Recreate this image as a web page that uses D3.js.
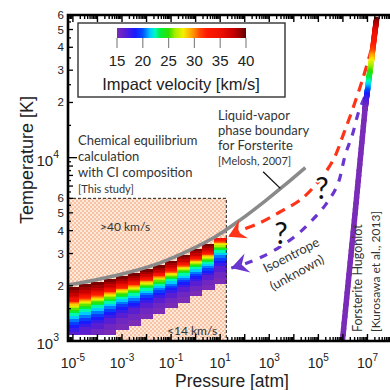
<!DOCTYPE html>
<html><head><meta charset="utf-8">
<script src="https://cdn.jsdelivr.net/npm/d3@7"></script>
<style>body{margin:0;background:#fff} svg{display:block}</style>
</head><body><svg id="chart" width="390" height="390"></svg>
<script>
// colour scale for impact velocity [km/s]
const cbVel = [15, 16.5, 18.5, 20, 21.4, 22.4, 23.3, 25, 26.2, 27.8, 29.1, 30.1, 31.1, 32.4, 35, 37.5, 38.8, 40];
const cbCol = ['#7a2bb8','#5a1ed2','#1a1aff','#0050ff','#00c8ff','#00f8c0','#00f040','#30e000','#a0ee00','#f4f000','#ffb400','#ff8000','#ff4400','#ff1a00','#ee1000','#c80000','#980000','#620000'];
const cbTicks = [15, 20, 25, 30, 35, 40];

// heat map columns: log10 P [atm], T reached at the top velocity and at 14 km/s
const colLogP = [-5, -4.5, -4, -3.5, -3, -2.5, -2, -1.5, -1, -0.5, 0, 0.5, 1];
const colTTop = [1970, 2050, 2100, 2180, 2265, 2350, 2470, 2600, 2740, 2950, 3180, 3390, 3650];
const colTBot = [860, 915, 990, 1065, 1150, 1220, 1320, 1420, 1515, 1630, 1760, 1900, 2050];
const colVTop = [40, 40, 40, 40, 40, 40, 40, 40, 40, 40, 40, 40, 35];
// where each velocity sits inside a column (0 = 14 km/s, 1 = 40 km/s)
const velLevels = [14, 17, 20, 23, 27, 30, 33, 37, 40];
const velFrac = [0, 0.33, 0.48, 0.62, 0.71, 0.76, 0.80, 0.87, 1.0];

// liquid-vapor boundary (Melosh 2007)
const lvLogP = [-5.2, -3.9, -2.67, -1.45, -0.22, 0.80, 1.82, 2.84, 3.65, 4.47];
const lvT = [2020, 2180, 2380, 2670, 3140, 3700, 4580, 5820, 7120, 8820];

// forsterite Hugoniot (Kurosawa 2013)
const hugLogP = [7.37, 7.29, 7.20, 7.16, 7.09, 7.02, 6.96, 6.90, 6.47, 5.98];
const hugT = [56700, 47000, 37500, 33500, 29100, 24400, 21300, 18300, 4580, 1000];
const hugV = [40, 35, 31, 28, 25, 21.5, 18, 15, 15, 15];

// isentropes (unknown), dashed
const redLogP = [7.16, 6.80, 6.39, 6.02, 5.61, 5.0, 4.27, 3.45, 2.63, 1.82, 1.33];
const redT = [38900, 26700, 18300, 13400, 9750, 7400, 5890, 5070, 4420, 3990, 3700];
const purLogP = [6.88, 6.63, 6.39, 6.10, 5.78, 5.29, 4.76, 4.18, 3.45, 2.71, 2.02, 1.45];
const purT = [21300, 17600, 13400, 10400, 7110, 5530, 4580, 3850, 3270, 2880, 2640, 2500];

const xMajor = [-5, -3, -1, 1, 3, 5, 7];
const yMinorLabels = [2, 3, 4, 5, 6];

const svg = d3.select('#chart');
const P = lp => Math.pow(10, lp);
const x = d3.scaleLog().domain([P(-5.2), 1e8]).range([68, 392]);
const y = d3.scaleLog().domain([1000, 60000]).range([341, 15]);
const vColor = d3.scaleLinear().domain(cbVel).range(cbCol).clamp(true);
const frac = d3.scaleLinear().domain(velLevels).range(velFrac);
const gridTMin = 1090, boxPMax = P(1.25), boxTMax = 6000;
const x0 = x.range()[0], x1 = x.range()[1], yb = y.range()[0], yt = y.range()[1];

const defs = svg.append('defs');
defs.append('clipPath').attr('id', 'clip').append('rect')
  .attr('x', x0).attr('y', yt).attr('width', x1 - x0).attr('height', yb - yt);
const pat = defs.append('pattern').attr('id', 'hatch').attr('width', 4).attr('height', 4)
  .attr('patternUnits', 'userSpaceOnUse');
pat.append('rect').attr('width', 4).attr('height', 4).attr('fill', '#fdeadb');
pat.append('circle').attr('cx', 1).attr('cy', 1).attr('r', 1).attr('fill', '#f6b590');
pat.append('circle').attr('cx', 3).attr('cy', 3).attr('r', 1).attr('fill', '#f6b590');

const plot = svg.append('g').attr('clip-path', 'url(#clip)');

// hatched box (outside the 14-40 km/s range)
plot.append('rect')
  .attr('x', x0).attr('y', y(boxTMax))
  .attr('width', x(boxPMax) - x0).attr('height', yb - y(boxTMax))
  .attr('fill', 'url(#hatch)');

// heat map
const cells = plot.append('g').attr('shape-rendering', 'crispEdges');
colLogP.forEach((c, i) => {
  const xa = x(P(c - 0.25)), xb = x(P(c + 0.25));
  const lb = Math.log10(colTBot[i]), lt = Math.log10(colTTop[i]);
  const fTop = frac(colVTop[i]);
  const Tv = v => P(lb + frac(v) / fTop * (lt - lb));
  if (colTBot[i] < gridTMin) {
    cells.append('rect').attr('x', xa).attr('width', xb - xa + 0.5)
      .attr('y', y(gridTMin)).attr('height', yb - y(gridTMin)).attr('fill', '#fff');
  }
  for (let v = 14; v < colVTop[i]; v++) {
    const t0 = Math.max(Tv(v), gridTMin), t1 = Tv(v + 1);
    if (t1 <= gridTMin) continue;
    cells.append('rect').attr('x', xa).attr('width', xb - xa + 0.5)
      .attr('y', y(t1)).attr('height', y(t0) - y(t1) + 0.5)
      .attr('fill', vColor(v + 0.5));
  }
});

// dashed border of the study box
plot.append('path')
  .attr('d', `M${x0},${y(boxTMax)}H${x(boxPMax)}V${yb}`)
  .attr('fill', 'none').attr('stroke', '#222').attr('stroke-width', 1)
  .attr('stroke-dasharray', '3,2');

const line = d3.line().x(d => x(P(d[0]))).y(d => y(d[1])).curve(d3.curveCatmullRom);

// liquid-vapor boundary
plot.append('path').datum(lvLogP.map((p, i) => [p, lvT[i]]))
  .attr('d', line).attr('fill', 'none').attr('stroke', '#8a8a8a').attr('stroke-width', 3.5);
// leader from its label
plot.append('line')
  .attr('x1', x(P(2.75))).attr('y1', y(8380)).attr('x2', x(P(3.45))).attr('y2', y(6800))
  .attr('stroke', '#111').attr('stroke-width', 1.3);

// dashed isentropes with arrow heads
function dashed(lps, ts, col, dash) {
  const pts = lps.map((p, i) => [p, ts[i]]);
  plot.append('path').datum(pts).attr('d', line).attr('fill', 'none')
    .attr('stroke', col).attr('stroke-width', 3.2).attr('stroke-dasharray', dash);
  const a = pts[pts.length - 2], b = pts[pts.length - 1];
  const ang = Math.atan2(y(b[1]) - y(a[1]), x(P(b[0])) - x(P(a[0]))) * 180 / Math.PI;
  plot.append('path')
    .attr('d', 'M0,0L-17,-10L-11,0L-17,10Z')
    .attr('transform', `translate(${x(P(b[0]))},${y(b[1])}) rotate(${ang})`)
    .attr('fill', col);
}
dashed(redLogP, redT, '#ff3318', '10,7');
dashed(purLogP, purT, '#6a36d0', '8,8');

// Hugoniot, coloured by velocity
const hug = plot.append('g');
for (let i = 0; i < hugLogP.length - 1; i++) {
  const n = 20;
  for (let j = 0; j < n; j++) {
    const s0 = j / n, s1 = (j + 1) / n;
    const lp0 = hugLogP[i] + (hugLogP[i + 1] - hugLogP[i]) * s0;
    const lp1 = hugLogP[i] + (hugLogP[i + 1] - hugLogP[i]) * s1;
    const lt0 = Math.log10(hugT[i]) + (Math.log10(hugT[i + 1]) - Math.log10(hugT[i])) * s0;
    const lt1 = Math.log10(hugT[i]) + (Math.log10(hugT[i + 1]) - Math.log10(hugT[i])) * s1;
    const v = hugV[i] + (hugV[i + 1] - hugV[i]) * (s0 + s1) / 2;
    hug.append('line')
      .attr('x1', x(P(lp0))).attr('y1', y(P(lt0))).attr('x2', x(P(lp1))).attr('y2', y(P(lt1)))
      .attr('stroke', vColor(v)).attr('stroke-width', 5.5).attr('stroke-linecap', 'round');
  }
}

// question marks
[[322, 199], [281, 244]].forEach(d => {
  svg.append('text').attr('x', d[0]).attr('y', d[1]).attr('text-anchor', 'middle')
    .attr('font-family', 'Lato, sans-serif').attr('font-size', 30).attr('fill', '#111')
    .attr('stroke', '#fff').attr('stroke-width', 4).attr('paint-order', 'stroke').text('?');
});

// axes
const ax = svg.append('g').attr('stroke', '#000');
const tickX = [];
for (let k = -6; k <= 8; k++) for (let m = 1; m <= 9; m++) {
  const v = m * Math.pow(10, k);
  if (v >= x.domain()[0] && v <= x.domain()[1]) tickX.push([v, m === 1]);
}
tickX.forEach(([v, maj]) => {
  const len = maj ? 7 : 4;
  ax.append('line').attr('x1', x(v)).attr('x2', x(v)).attr('y1', yb).attr('y2', yb - len).attr('stroke-width', 1.4);
  ax.append('line').attr('x1', x(v)).attr('x2', x(v)).attr('y1', yt).attr('y2', yt + len).attr('stroke-width', 1.4);
});
const tickY = [];
for (let k = 3; k <= 4; k++) for (let m = 1; m <= 9.5; m += 0.5) {
  const v = m * Math.pow(10, k);
  if (v >= y.domain()[0] && v <= y.domain()[1]) tickY.push([v, m === 1 ? 9 : (m % 1 === 0 ? 5 : 3)]);
}
tickY.forEach(([v, len]) => {
  ax.append('line').attr('x1', x0).attr('x2', x0 + len).attr('y1', y(v)).attr('y2', y(v)).attr('stroke-width', 1.3);
});
ax.append('path').attr('d', `M${x1},${yt}H${x0}V${yb}H${x1}`).attr('fill', 'none').attr('stroke-width', 2.6);

const axFont = 'Liberation Sans, Arial, sans-serif';
xMajor.forEach(k => {
  const t = svg.append('text').attr('x', x(P(k))).attr('y', 368).attr('text-anchor', 'middle')
    .attr('font-family', axFont).attr('font-size', 14).attr('fill', '#222');
  t.append('tspan').text('10');
  t.append('tspan').attr('dy', -7).attr('font-size', 10).text(k < 0 ? '-' + (-k) : k);
});
[3, 4].forEach(k => {
  const t = svg.append('text').attr('x', 59).attr('y', y(P(k)) + 8).attr('text-anchor', 'end')
    .attr('font-family', axFont).attr('font-size', 15).attr('fill', '#222');
  t.append('tspan').text('10');
  t.append('tspan').attr('dy', -8).attr('font-size', 10.5).text(k);
  yMinorLabels.forEach(m => {
    svg.append('text').attr('x', 64).attr('y', y(m * P(k)) + 4).attr('text-anchor', 'end')
      .attr('font-family', axFont).attr('font-size', 11.5).attr('fill', '#222').text(m);
  });
});
svg.append('text').attr('x', 232).attr('y', 387).attr('text-anchor', 'middle')
  .attr('font-family', axFont).attr('font-size', 17.5).attr('fill', '#222').text('Pressure [atm]');
svg.append('text').attr('transform', 'translate(33,160) rotate(-90)').attr('text-anchor', 'middle')
  .attr('font-family', axFont).attr('font-size', 18).attr('fill', '#222').text('Temperature [K]');

// colour bar
const grad = defs.append('linearGradient').attr('id', 'cbar');
cbVel.forEach((v, i) => grad.append('stop').attr('offset', (v - 15) / 25).attr('stop-color', cbCol[i]));
const cb = d3.scaleLinear().domain([15, 40]).range([117, 246]);
svg.append('rect').attr('x', 78).attr('y', 23).attr('width', 207).attr('height', 74)
  .attr('fill', '#fff').attr('stroke', '#333').attr('stroke-width', 1.4);
svg.append('rect').attr('x', cb(15)).attr('y', 28).attr('width', cb(40) - cb(15)).attr('height', 10)
  .attr('fill', 'url(#cbar)');
cbTicks.forEach(v => {
  svg.append('line').attr('x1', cb(v)).attr('x2', cb(v)).attr('y1', 38).attr('y2', 48)
    .attr('stroke', '#888').attr('stroke-width', 1.2);
  svg.append('text').attr('x', cb(v)).attr('y', 66).attr('text-anchor', 'middle')
    .attr('font-family', axFont).attr('font-size', 15).attr('fill', '#222').text(v);
});
svg.append('text').attr('x', 181).attr('y', 90).attr('text-anchor', 'middle')
  .attr('font-family', axFont).attr('font-size', 16.5).attr('fill', '#222').text('Impact velocity [km/s]');

// annotations
const note = (lines, x0n, y0n, step, sizes) => {
  lines.forEach((s, i) => svg.append('text').attr('x', x0n).attr('y', y0n + i * step)
    .attr('font-family', 'Lato, sans-serif').attr('font-size', sizes[i]).attr('fill', '#333').text(s));
};
note(['Liquid-vapor', 'phase boundary', 'for Forsterite', '[Melosh, 2007]'], 218, 120, 15, [13, 13, 13, 11]);
note(['Chemical equilibrium', 'calculation', 'with CI composition', '[This study]'], 78, 145, 16, [13, 13, 13, 11]);
note(['>40 km/s'], 100, 231, 0, [12]);
note(['<14 km/s'], 167, 335, 0, [12]);
svg.append('text').attr('transform', 'translate(266,273) rotate(-27)')
  .attr('font-family', 'Lato, sans-serif').attr('font-size', 13).attr('fill', '#333').text('Isoentrope');
svg.append('text').attr('transform', 'translate(273,291) rotate(-29)')
  .attr('font-family', 'Lato, sans-serif').attr('font-size', 13).attr('fill', '#333').text('(unknown)');
svg.append('text').attr('transform', 'translate(362,332) rotate(-90)')
  .attr('font-family', 'Lato, sans-serif').attr('font-size', 12.5).attr('fill', '#333').text('Forsterite Hugoniot');
svg.append('text').attr('transform', 'translate(380,332) rotate(-90)')
  .attr('font-family', 'Lato, sans-serif').attr('font-size', 12).attr('fill', '#333').text('[Kurosawa et al., 2013]');
</script></body></html>
